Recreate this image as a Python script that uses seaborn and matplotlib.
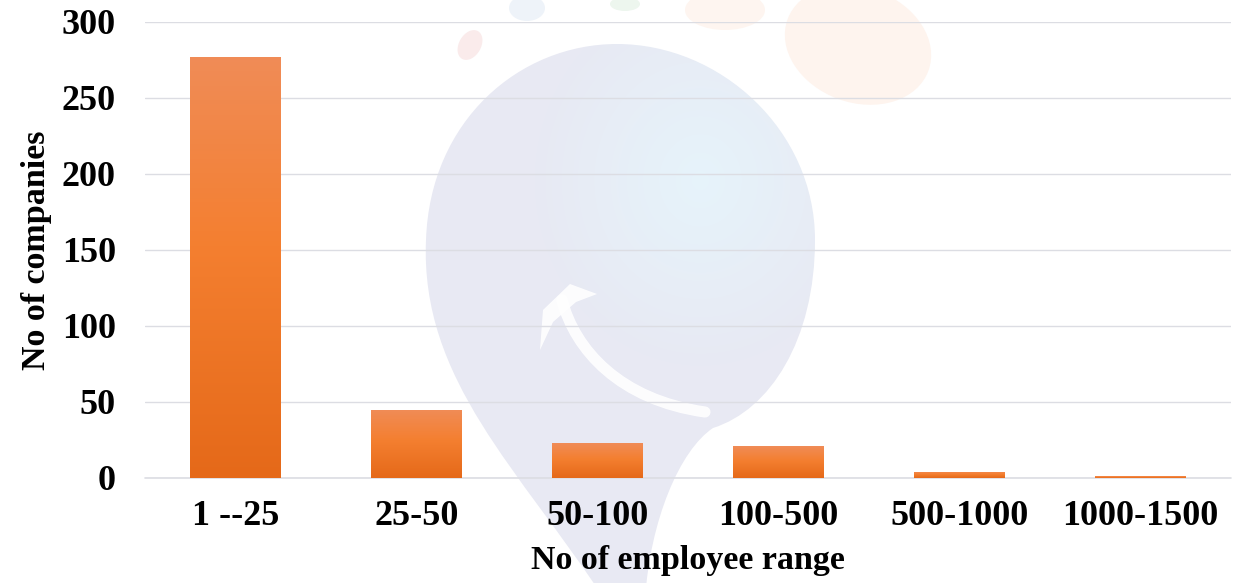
import numpy as np
import pandas as pd
import seaborn as sns
import matplotlib.pyplot as plt
from matplotlib.path import Path
from matplotlib.patches import PathPatch, Ellipse, Polygon
from matplotlib.colors import LinearSegmentedColormap

# Company counts per employee-size band
ranges = ["1 --25", "25-50", "50-100", "100-500", "500-1000", "1000-1500"]
companies = [277, 45, 23, 21, 4, 1]
y_ticks = [0, 50, 100, 150, 200, 250, 300]

sns.set_theme(style="white")
plt.rcParams["font.family"] = ["Liberation Serif", "DejaVu Serif"]
plt.rcParams["font.weight"] = "bold"

W, H = 1253, 583
fig = plt.figure(figsize=(W / 100, H / 100), dpi=100)
fig.patch.set_facecolor("white")

# ---- faint background logo, drawn in a pixel-space backdrop axes ----
bg = fig.add_axes([0, 0, 1, 1], zorder=-1)
bg.set_xlim(0, W)
bg.set_ylim(H, 0)
bg.axis("off")

blob_pts = [(605, 600),
            (520, 470), (420, 380), (426, 240),
            (430, 120), (520, 44), (617, 44),
            (720, 44), (815, 130), (815, 240),
            (815, 340), (770, 410), (713, 428),
            (680, 450), (650, 520), (645, 600),
            (605, 600)]
codes = [Path.MOVETO] + [Path.CURVE4] * 15 + [Path.CLOSEPOLY]
blob = PathPatch(Path(blob_pts, codes), facecolor="none", edgecolor="none")
bg.add_patch(blob)
yy, xx = np.mgrid[0:H, 0:W]
d = np.sqrt(((xx - 700) / 170.0) ** 2 + ((yy - 180) / 190.0) ** 2)
t = np.clip(1 - d, 0, 1)
base = np.array([0.910, 0.914, 0.953])
hi = np.array([0.902, 0.955, 0.984])
rgb = base[None, None, :] * (1 - t[..., None]) + hi[None, None, :] * t[..., None]
im_bg = bg.imshow(rgb, extent=[0, W, H, 0], origin="upper", aspect="auto")
im_bg.set_clip_path(blob)

arc_pts = [(705, 412), (620, 400), (575, 350), (562, 300)]
bg.add_patch(PathPatch(Path(arc_pts, [Path.MOVETO] + [Path.CURVE4] * 3),
                       facecolor="none", edgecolor="white", lw=8,
                       capstyle="round", alpha=0.9))
bg.add_patch(Polygon([(540, 350), (543, 310), (570, 284), (597, 294),
                      (576, 302), (553, 322)], closed=True,
                     facecolor="white", edgecolor="none", alpha=0.9))

for (cx, cy, w, h, ang, col) in [(858, 45, 150, 115, 20, "#FEF4EE"),
                                 (725, 10, 80, 40, 0, "#FEF5F0"),
                                 (625, 4, 30, 14, 0, "#EDF6EE"),
                                 (527, 8, 36, 26, 0, "#EEF3F9"),
                                 (470, 45, 22, 32, 30, "#FAEBEB")]:
    bg.add_patch(Ellipse((cx, cy), w, h, angle=ang, facecolor=col,
                         edgecolor="none"))

# ---- bar chart ----
ax = fig.add_axes([145 / W, 1 - 478 / H, 1086 / W, 456 / H])
ax.set_facecolor("none")

df = pd.DataFrame({"range": ranges, "companies": companies})
sns.barplot(data=df, x="range", y="companies", ax=ax, width=0.5,
            color="#F47F2F", saturation=1, zorder=2)

# vertical orange gradient inside each bar
cmap = LinearSegmentedColormap.from_list(
    "bar", [(0.0, "#E56919"), (0.55, "#F47F30"), (1.0, "#F08C57")])
grad = np.linspace(0, 1, 256).reshape(-1, 1)
for patch in ax.patches:
    x0, w, h = patch.get_x(), patch.get_width(), patch.get_height()
    im = ax.imshow(grad, extent=[x0, x0 + w, 0, h], origin="lower",
                   aspect="auto", cmap=cmap, zorder=2)
    im.set_clip_path(patch)
    patch.set_facecolor("none")
    patch.set_edgecolor("none")

ax.set_xlim(-0.5, len(ranges) - 0.5)
ax.set_ylim(0, 300)
ax.set_yticks(y_ticks)
ax.yaxis.grid(True, color="#DCDDE3", lw=1.0, zorder=1)
ax.axhline(0, color="#DCDDE3", lw=1.2, zorder=1, clip_on=False)
ax.set_axisbelow(True)
for s in ax.spines.values():
    s.set_visible(False)

ax.tick_params(axis="x", length=0, pad=16, labelsize=26)
ax.tick_params(axis="y", length=0, pad=21, labelsize=26)
for lab in ax.get_xticklabels() + ax.get_yticklabels():
    lab.set_fontweight("bold")
    lab.set_color("black")

ax.set_xlabel("No of employee range", fontsize=24.5, fontweight="bold",
              color="black")
ax.set_ylabel("No of companies", fontsize=24.5, fontweight="bold",
              color="black")
ax.xaxis.set_label_coords(0.5, -0.148)
ax.yaxis.set_label_coords(-0.086, 0.5)

fig.savefig("out.png", dpi=100, facecolor="white")
